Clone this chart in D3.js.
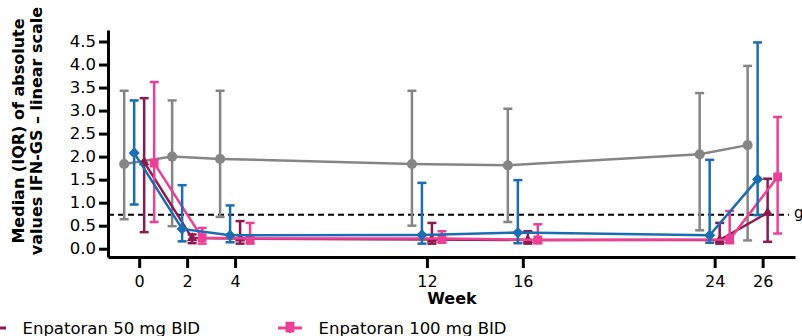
<!DOCTYPE html>
<html>
<head>
<meta charset="utf-8">
<script src="https://cdn.jsdelivr.net/npm/d3@7"></script>
<style>
  body { margin: 0; background: #fff; }
  svg { display: block; }
  text { font-family: "DejaVu Sans", Verdana, sans-serif; fill: #000; }
</style>
</head>
<body>
<svg id="chart" width="802" height="336"></svg>
<script>
// Visit weeks and axis ticks
const weeks = [0, 2, 4, 12, 16, 24, 26];
const xTicks = [0, 2, 4, 12, 16, 24, 26];
const yTicks = [0, 0.5, 1, 1.5, 2, 2.5, 3, 3.5, 4, 4.5];
const threshold = 0.74;

// Median, Q1, Q3 per visit — grey circles
const greyMedian = [1.84, 2.00, 1.95, 1.84, 1.81, 2.05, 2.25];
const greyQ1     = [0.64, 0.49, 0.69, 0.50, 0.58, 0.40, 0.18];
const greyQ3     = [3.43, 3.22, 3.43, 3.43, 3.04, 3.38, 3.97];

// Blue diamonds
const blueMedian = [2.08, 0.43, 0.29, 0.30, 0.35, 0.29, 1.51];
const blueQ1     = [0.96, 0.16, 0.14, 0.11, 0.12, 0.13, 0.73];
const blueQ3     = [3.22, 1.38, 0.94, 1.43, 1.49, 1.93, 4.48];

// Enpatoran 50 mg BID
const bid50Median = [1.88, 0.23, 0.22, 0.20, 0.19, 0.19, 0.78];
const bid50Q1     = [0.36, 0.12, 0.11, 0.11, 0.11, 0.11, 0.15];
const bid50Q3     = [3.27, 0.31, 0.60, 0.56, 0.38, 0.56, 1.52];

// Enpatoran 100 mg BID
const bid100Median = [1.86, 0.24, 0.22, 0.22, 0.19, 0.20, 1.56];
const bid100Q1     = [0.58, 0.11, 0.11, 0.13, 0.12, 0.12, 0.33];
const bid100Q3     = [3.62, 0.45, 0.56, 0.38, 0.53, 0.82, 2.86];

const legendLabels = ["Enpatoran 50 mg BID", "Enpatoran 100 mg BID"];

const build = (med, q1, q3) => weeks.map((w, i) => ({ week: w, median: med[i], q1: q1[i], q3: q3[i] }));

// Square diamond (rotated square) marker
const diamond = {
  draw(ctx, size) {
    const r = Math.sqrt(size) / Math.SQRT2;
    ctx.moveTo(0, -r); ctx.lineTo(r, 0); ctx.lineTo(0, r); ctx.lineTo(-r, 0); ctx.closePath();
  }
};

// Drawn back to front
const series = [
  { data: build(greyMedian, greyQ1, greyQ3),       color: "#858585", dodge: -15, symbol: d3.symbolCircle,   size: 80 },
  { data: build(bid50Median, bid50Q1, bid50Q3),    color: "#8c1a4f", dodge: 5,   symbol: d3.symbolTriangle, size: 48 },
  { data: build(bid100Median, bid100Q1, bid100Q3), color: "#ec3f96", dodge: 15,  symbol: d3.symbolSquare,   size: 78 },
  { data: build(blueMedian, blueQ1, blueQ3),       color: "#1a6db3", dodge: -5,  symbol: diamond,           size: 62 }
];

const svg = d3.select("#chart");

const x = d3.scaleLinear().domain([-1.3, 27.35]).range([108, 795]);
const y = d3.scaleLinear().domain([-0.18, 4.75]).range([257, 30]);

// Axes
const yAxis = svg.append("g")
  .attr("transform", `translate(${x.range()[0]},0)`)
  .call(d3.axisLeft(y).tickValues(yTicks).tickFormat(d3.format(".1f")).tickSize(9).tickSizeOuter(0).tickPadding(3));
const xAxis = svg.append("g")
  .attr("transform", `translate(0,${y.range()[0]})`)
  .call(d3.axisBottom(x).tickValues(xTicks).tickFormat(d3.format("d")).tickSize(11).tickSizeOuter(0).tickPadding(8));

[yAxis, xAxis].forEach(g => {
  g.select(".domain").attr("stroke", "#000").attr("stroke-width", 3);
  g.selectAll(".tick line").attr("stroke", "#000").attr("stroke-width", 3);
  g.selectAll(".tick text").attr("fill", "#000").style("font-family", '"DejaVu Sans", Verdana, sans-serif');
});
yAxis.selectAll(".tick text").style("font-size", "16.5px");
xAxis.selectAll(".tick text").style("font-size", "16px");

// Axis titles
svg.append("text")
  .attr("x", 452).attr("y", 304)
  .attr("text-anchor", "middle")
  .style("font-size", "16px").style("font-weight", "bold")
  .text("Week");

const yTitle = svg.append("text")
  .attr("transform", "translate(24,131) rotate(-90)")
  .attr("text-anchor", "middle")
  .style("font-size", "16px").style("font-weight", "bold");
yTitle.append("tspan").attr("x", 0).attr("dy", 0).text("Median (IQR) of absolute");
yTitle.append("tspan").attr("x", 0).attr("dy", "1.15em").text("values IFN-GS \u2013 linear scale");

// Threshold line
svg.append("line")
  .attr("x1", x.range()[0]).attr("x2", 789)
  .attr("y1", y(threshold)).attr("y2", y(threshold))
  .attr("stroke", "#000").attr("stroke-width", 2).attr("stroke-dasharray", "6,4");
svg.append("text")
  .attr("x", 794).attr("y", y(threshold) + 3)
  .style("font-size", "15px")
  .text("g");

// Series: lines, error bars, markers
const cap = 4.5;
series.forEach(s => {
  const px = d => x(d.week) + s.dodge;
  const g = svg.append("g");
  g.append("path")
    .datum(s.data)
    .attr("fill", "none").attr("stroke", s.color).attr("stroke-width", 2.5)
    .attr("d", d3.line().x(px).y(d => y(d.median)));
  const bars = g.selectAll(".bar").data(s.data).join("g")
    .attr("stroke", s.color).attr("stroke-width", 2.5);
  bars.append("line").attr("x1", px).attr("x2", px).attr("y1", d => y(d.q1)).attr("y2", d => y(d.q3));
  bars.append("line").attr("x1", d => px(d) - cap).attr("x2", d => px(d) + cap).attr("y1", d => y(d.q3)).attr("y2", d => y(d.q3));
  bars.append("line").attr("x1", d => px(d) - cap).attr("x2", d => px(d) + cap).attr("y1", d => y(d.q1)).attr("y2", d => y(d.q1));
  g.selectAll(".pt").data(s.data).join("path")
    .attr("transform", d => `translate(${px(d)},${y(d.median)})`)
    .attr("d", d3.symbol(s.symbol, s.size))
    .attr("fill", s.color);
});

// Legend
const legendSeries = [series[1], series[2]];
const legendX = [-6, 290];
const legendY = 328;
legendSeries.forEach((s, i) => {
  const g = svg.append("g").attr("transform", `translate(${legendX[i]},${legendY})`);
  g.append("line").attr("x1", -12).attr("x2", 12).attr("stroke", s.color).attr("stroke-width", 3);
  g.append("line").attr("y1", -5).attr("y2", 5).attr("stroke", s.color).attr("stroke-width", 2.5);
  g.append("line").attr("x1", -cap).attr("x2", cap).attr("y1", -5).attr("y2", -5).attr("stroke", s.color).attr("stroke-width", 2.5);
  g.append("path").attr("d", d3.symbol(s.symbol, s.size)()).attr("fill", s.color);
  g.append("text").attr("x", 28.5).attr("y", 6).style("font-size", "16.5px").text(legendLabels[i]);
});
</script>
</body>
</html>
